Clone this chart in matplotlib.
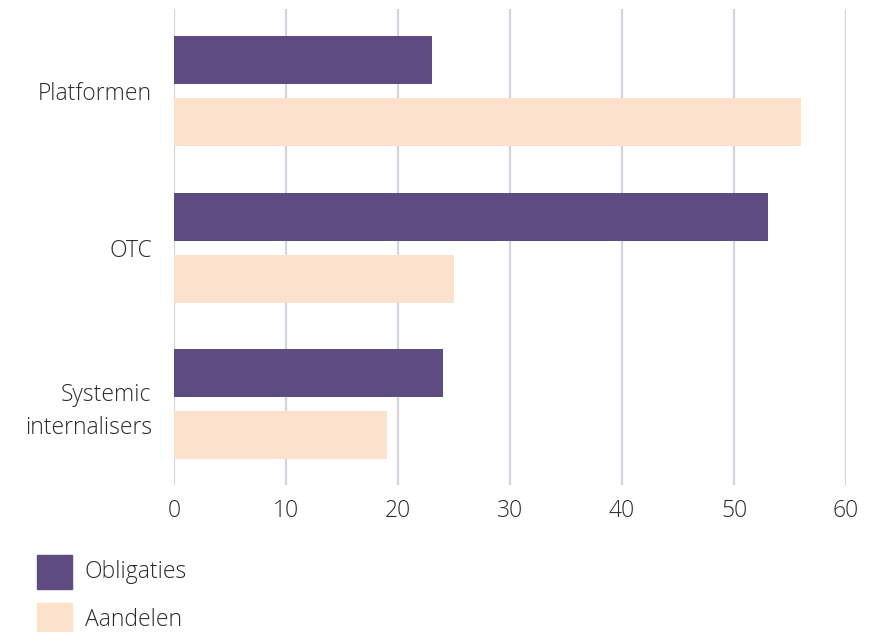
import numpy as np
import matplotlib.pyplot as plt
from matplotlib.patches import Rectangle

categories = ["Platformen", "OTC", "Systemic\ninternalisers"]
series = ["Obligaties", "Aandelen"]
obligaties = [23, 53, 24]
aandelen = [56, 25, 19]
xticks = [0, 10, 20, 30, 40, 50, 60]

plt.rcParams["font.family"] = ["Open Sans", "DejaVu Sans"]
plt.rcParams["font.weight"] = "light"

colors = ["#5e4b81", "#fce1cd"]
text_color = "#2b2b2b"
fs = 16.5

fig = plt.figure(figsize=(8.77, 6.32), dpi=100)
ax = fig.add_axes([174 / 877, 1 - 485 / 632, 672 / 877, 476 / 632])

y = np.arange(len(categories))
h = 0.306
off = 0.198
ax.barh(y - off, obligaties, height=h, color=colors[0], zorder=3)
ax.barh(y + off, aandelen, height=h, color=colors[1], zorder=3)

ax.set_xlim(0, 60)
ax.set_ylim(2.514, -0.523)
ax.set_xticks(xticks)
ax.set_yticks(y)
ax.set_yticklabels(categories, fontsize=fs, color=text_color, linespacing=1.45)
ax.tick_params(axis="x", labelsize=fs, labelcolor=text_color, length=0, pad=10)
ax.tick_params(axis="y", length=0, pad=16)
for lab in ax.get_xticklabels() + ax.get_yticklabels():
    lab.set_fontweight("light")
    lab.set_y(lab.get_position()[1])
ax.get_yticklabels()[-1].set_va("center_baseline")

ax.grid(axis="x", color="#d6d3e1", linewidth=1.6, zorder=0)
for s in ax.spines.values():
    s.set_visible(False)

# legend
for i, (name, c) in enumerate(zip(series, colors)):
    top = 555 + i * 48
    fig.add_artist(Rectangle((37 / 877, 1 - (top + 34) / 632), 35 / 877, 34 / 632,
                             transform=fig.transFigure, color=c))
    fig.text(85 / 877, 1 - (top + 17) / 632, name, fontsize=fs, color=text_color,
             va="center", ha="left", fontweight="light")

fig.savefig("out.png", dpi=100)
